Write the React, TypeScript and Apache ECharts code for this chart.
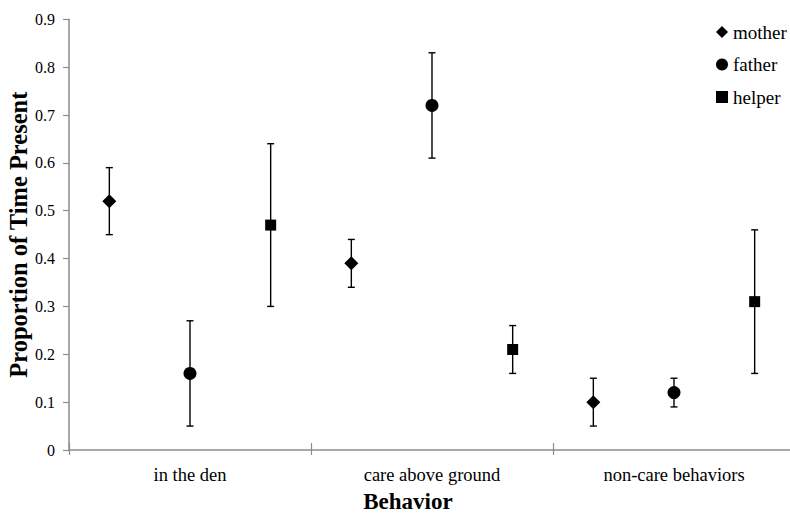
import React, { useEffect, useRef } from "react";
import * as echarts from "echarts";

const categories = ["in the den", "care above ground", "non-care behaviors"];
const seriesNames = ["mother", "father", "helper"];

const motherMean = [0.52, 0.39, 0.10];
const motherLow = [0.45, 0.34, 0.05];
const motherHigh = [0.59, 0.44, 0.15];

const fatherMean = [0.16, 0.72, 0.12];
const fatherLow = [0.05, 0.61, 0.09];
const fatherHigh = [0.27, 0.83, 0.15];

const helperMean = [0.47, 0.21, 0.31];
const helperLow = [0.30, 0.16, 0.16];
const helperHigh = [0.64, 0.26, 0.46];

const yTicks = [0, 0.1, 0.2, 0.3, 0.4, 0.5, 0.6, 0.7, 0.8, 0.9];

const FONT = "Liberation Serif";

export default function App() {
  const ref = useRef<HTMLDivElement>(null);

  useEffect(() => {
    if (!ref.current) return;
    const chart = echarts.init(ref.current, undefined, { renderer: "svg" });

    const groups = [
      { name: seriesNames[0], mean: motherMean, low: motherLow, high: motherHigh, symbol: "diamond", size: 14, offset: 1 / 6 },
      { name: seriesNames[1], mean: fatherMean, low: fatherLow, high: fatherHigh, symbol: "circle", size: 13, offset: 1 / 2 },
      { name: seriesNames[2], mean: helperMean, low: helperLow, high: helperHigh, symbol: "rect", size: 11, offset: 5 / 6 },
    ];

    const errorSeries = groups.map((g) => ({
      type: "custom",
      name: g.name + "-err",
      xAxisIndex: 0,
      yAxisIndex: 0,
      silent: true,
      z: 1,
      data: categories.map((_, i) => [i + g.offset, g.low[i], g.high[i]]),
      encode: { x: 0, y: [1, 2] },
      renderItem: (params: any, api: any) => {
        const x = api.value(0);
        const lo = api.coord([x, api.value(1)]);
        const hi = api.coord([x, api.value(2)]);
        const cap = 3.5;
        const style = { stroke: "#000", lineWidth: 1.4 };
        return {
          type: "group",
          children: [
            { type: "line", shape: { x1: lo[0], y1: lo[1], x2: hi[0], y2: hi[1] }, style },
            { type: "line", shape: { x1: lo[0] - cap, y1: lo[1], x2: lo[0] + cap, y2: lo[1] }, style },
            { type: "line", shape: { x1: hi[0] - cap, y1: hi[1], x2: hi[0] + cap, y2: hi[1] }, style },
          ],
        };
      },
    }));

    const pointSeries = groups.map((g) => ({
      type: "scatter",
      name: g.name,
      xAxisIndex: 0,
      yAxisIndex: 0,
      symbol: g.symbol,
      symbolSize: g.size,
      z: 3,
      itemStyle: { color: "#000", opacity: 1 },
      data: categories.map((_, i) => [i + g.offset, g.mean[i]]),
    }));

    chart.setOption({
      animation: false,
      backgroundColor: "#fff",
      textStyle: { fontFamily: FONT },
      grid: { left: 69, top: 19.3, width: 726, height: 430.7, containLabel: false, outerBoundsMode: "none" },
      legend: {
        data: seriesNames,
        orient: "vertical",
        left: 711,
        top: 17,
        itemWidth: 12,
        itemHeight: 12,
        itemGap: 12.5,
        textStyle: { fontFamily: FONT, fontSize: 19, color: "#000", lineHeight: 20 },
      },
      xAxis: [
        {
          type: "value",
          min: 0,
          max: 3,
          show: false,
          position: "bottom",
        },
        {
          type: "category",
          data: categories,
          position: "bottom",
          boundaryGap: true,
          axisLine: { show: true, lineStyle: { color: "#8c8c8c", width: 1.5 } },
          axisTick: { show: true, inside: false, length: 5, lineStyle: { color: "#8c8c8c", width: 1.2 } },
          axisLabel: { fontFamily: FONT, fontSize: 18.5, color: "#000", margin: 15 },
          name: "Behavior",
          nameLocation: "middle",
          nameGap: 40,
          nameMoveOverlap: false,
          nameTextStyle: {
            fontFamily: FONT,
            fontSize: 23,
            lineHeight: 22,
            fontWeight: "bold",
            color: "#000",
            padding: [0, 48, 0, 0],
          },
          splitLine: { show: false },
        },
        {
          type: "category",
          data: categories,
          position: "bottom",
          boundaryGap: true,
          axisLine: { show: false },
          axisTick: { show: true, inside: true, length: 7, lineStyle: { color: "#8c8c8c", width: 1.2 } },
          axisLabel: { show: false },
          splitLine: { show: false },
        },
      ],
      yAxis: {
        type: "value",
        min: 0,
        max: 0.9,
        interval: 0.1,
        axisLine: { show: true, lineStyle: { color: "#8c8c8c", width: 1.5 } },
        axisTick: { show: true, inside: false, length: 6, lineStyle: { color: "#8c8c8c", width: 1.2 } },
        axisLabel: {
          fontFamily: FONT,
          fontSize: 16,
          color: "#000",
          margin: 14,
          formatter: (v: number) => {
            const t = yTicks.find((y) => Math.abs(y - v) < 1e-6);
            return String(t !== undefined ? t : v);
          },
        },
        splitLine: { show: false },
        name: "Proportion of Time Present",
        nameLocation: "middle",
        nameRotate: 90,
        nameGap: 38,
        nameMoveOverlap: false,
        nameTextStyle: {
          fontFamily: FONT,
          fontSize: 24.5,
          lineHeight: 26,
          fontWeight: "bold",
          color: "#000",
        },
      },
      series: [...errorSeries, ...pointSeries],
    });

    return () => chart.dispose();
  }, []);

  return <div ref={ref} style={{ width: 790, height: 513, position: "absolute", left: 0, top: 0 }} />;
}
